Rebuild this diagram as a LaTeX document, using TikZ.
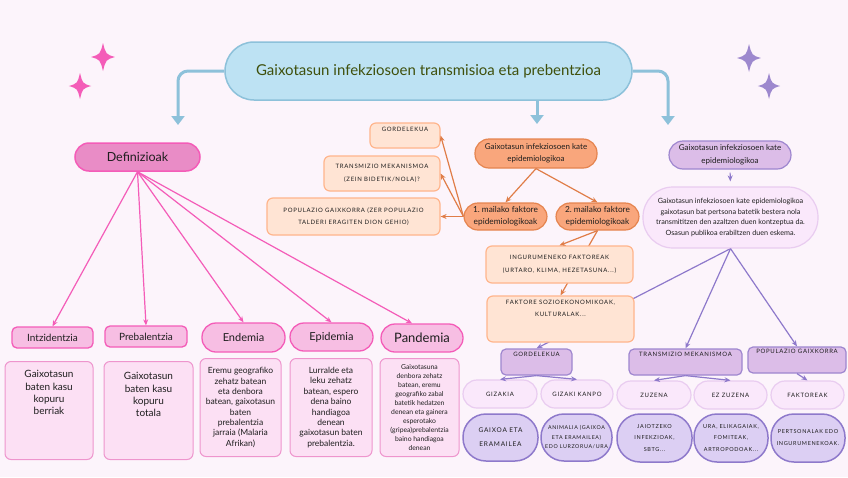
\documentclass[tikz,border=0pt]{standalone}
\usepackage{fontspec}
\setmainfont{Lato}
\newfontfamily\capsfont[LetterSpace=12]{Lato}
\usepackage{xcolor}
\usetikzlibrary{arrows.meta, positioning, backgrounds}

\definecolor{bgpaper}{HTML}{FCF4FB}
\definecolor{skyfill}{HTML}{BDE2F3}
\definecolor{skyline}{HTML}{8DC1DA}
\definecolor{titletxt}{HTML}{3F500C}
\definecolor{rosefill}{HTML}{E98CC6}
\definecolor{roseline}{HTML}{F45CB8}
\definecolor{roselab}{HTML}{F7BEE3}
\definecolor{rosepale}{HTML}{FCE0F4}
\definecolor{roseedge}{HTML}{EE95CD}
\definecolor{peachfill}{HTML}{FFE4D4}
\definecolor{peachline}{HTML}{FFB58C}
\definecolor{orangefill}{HTML}{F9A67C}
\definecolor{orangeline}{HTML}{E5844F}
\definecolor{orangearr}{HTML}{E07D48}
\definecolor{lilacfill}{HTML}{DCBDE8}
\definecolor{lilacline}{HTML}{9E86CF}
\definecolor{lilacpale}{HTML}{FAE8FB}
\definecolor{lilacedge}{HTML}{E9CCF0}
\definecolor{lavfill}{HTML}{DCCFF3}
\definecolor{lavline}{HTML}{8E79CB}
\definecolor{lilacstar}{HTML}{9D88CE}
\definecolor{inktxt}{HTML}{1E1E1E}

% text pinned to the top of a box
\newcommand{\toptext}[3]{\parbox[c][#1][t]{#2}{\centering #3}}

\begin{document}
\begin{tikzpicture}[
  x=1pt, y=-1pt,
  base/.style={align=center, text=inktxt, inner sep=1pt},
  titlebox/.style={base, draw=skyline, fill=skyfill, line width=1.5pt, rounded corners=29pt,
                   minimum width=407pt, minimum height=58pt, text=titletxt,
                   font=\fontsize{15}{17}\selectfont},
  defhead/.style={base, draw=roseline, fill=rosefill, line width=1.5pt, rounded corners=14pt,
                  minimum width=125pt, minimum height=28pt, font=\fontsize{12.5}{14}\selectfont},
  deflab/.style={base, draw=roseline, fill=roselab, line width=1.3pt, rounded corners=5pt,
                 minimum width=82pt, minimum height=21pt, font=\fontsize{10}{12}\selectfont},
  defpill/.style={deflab, rounded corners=14pt, minimum height=28pt, font=\fontsize{11}{13}\selectfont},
  defnote/.style={base, draw=roseedge, fill=rosepale, line width=1pt, rounded corners=6pt,
                  minimum height=98pt},
  peachbox/.style={base, draw=peachline, fill=peachfill, line width=1.2pt, rounded corners=6pt,
                   font=\capsfont\fontsize{6}{12.5}\selectfont},
  orangepill/.style={base, draw=orangeline, fill=orangefill, line width=1.2pt, rounded corners=14pt,
                     minimum height=28pt, font=\fontsize{8}{12.5}\selectfont},
  lilacbox/.style={base, draw=lilacline, fill=lilacfill, line width=1.2pt, rounded corners=5pt,
                   minimum height=26pt, font=\capsfont\fontsize{6}{9}\selectfont},
  lilacpill/.style={base, draw=lilacedge, fill=lilacpale, line width=1.2pt, rounded corners=14pt,
                    minimum width=73pt, minimum height=28pt, font=\capsfont\fontsize{6}{9}\selectfont},
  lavpill/.style={base, draw=lavline, fill=lavfill, line width=1.5pt, rounded corners=23pt,
                  minimum width=74pt, minimum height=47pt, font=\capsfont\fontsize{5.5}{11.5}\selectfont},
  bluearr/.style={-{Triangle[length=9pt, width=13pt]}, draw=skyline, line width=3pt},
  rosearr/.style={-{Stealth[length=6pt, width=5pt]}, draw=roseline, line width=1.2pt},
  orarr/.style={-{Stealth[length=6pt, width=5pt]}, draw=orangearr, line width=1.2pt},
  lilarr/.style={-{Stealth[length=6pt, width=5pt]}, draw=lavline, line width=1.2pt},
]
  \useasboundingbox (0,0) rectangle (848,477);
  \begin{scope}[on background layer]
    \fill[bgpaper] (0,0) rectangle (848,477);
  \end{scope}

  % sparkles
  \foreach \sx/\sy/\sr/\sc in {103/57/14/roseline, 80/86/13/roseline, 749/58/14/lilacstar, 769/86/13/lilacstar}
    \fill[\sc] (\sx,\sy-\sr) .. controls (\sx+0.2*\sr,\sy-0.2*\sr) .. (\sx+0.85*\sr,\sy)
               .. controls (\sx+0.2*\sr,\sy+0.2*\sr) .. (\sx,\sy+\sr)
               .. controls (\sx-0.2*\sr,\sy+0.2*\sr) .. (\sx-0.85*\sr,\sy)
               .. controls (\sx-0.2*\sr,\sy-0.2*\sr) .. (\sx,\sy-\sr) -- cycle;

  \node[titlebox] (title) at (428.5,71) {Gaixotasun infekziosoen transmisioa eta prebentzioa};
  \coordinate (deftip) at (178,125);
  \coordinate (midtip) at (537,124);
  \coordinate (kattip) at (668,125);

  % definizioak
  \node[defhead] (defin) at (137.5,157) {Definizioak};
  \node[deflab, minimum width=81pt] (intz) at (52.5,337.5) {Intzidentzia};
  \node[deflab] (preb) at (146,336.5) {Prebalentzia};
  \node[defpill, minimum width=83pt, minimum height=29pt] (endem) at (243.5,337.5) {Endemia};
  \node[defpill, minimum width=83pt] (epid) at (331.5,337) {Epidemia};
  \node[defpill, font=\fontsize{13}{15}\selectfont] (pand) at (422,338) {Pandemia};

  \node[defnote, minimum width=88pt, font=\fontsize{10}{12.3}\selectfont] (intzD) at (49,410.5)
       {\toptext{80pt}{84pt}{Gaixotasun\\baten kasu\\kopuru\\berriak}};
  \node[defnote, minimum width=89pt, font=\fontsize{10}{12.3}\selectfont] (prebD) at (148.5,410.5)
       {\toptext{76pt}{84pt}{Gaixotasun\\baten kasu\\kopuru\\totala}};
  \node[defnote, minimum width=81pt, font=\fontsize{8.5}{10.3}\selectfont] (endemD) at (240.5,407.5)
       {Eremu geografiko\\zehatz batean\\eta denbora\\batean, gaixotasun\\baten\\prebalentzia\\jarraia (Malaria\\Afrikan)};
  \node[defnote, minimum width=82pt, font=\fontsize{8.5}{10.4}\selectfont] (epidD) at (331,407.5)
       {Lurralde eta\\leku zehatz\\batean, espero\\dena baino\\handiagoa\\denean\\gaixotasun baten\\prebalentzia.};
  \node[defnote, minimum width=79pt, font=\fontsize{6.8}{9}\selectfont] (pandD) at (419.5,407.5)
       {Gaixotasuna\\denbora zehatz\\batean, eremu\\geografiko zabal\\batetik hedatzen\\denean eta gainera\\esperotako\\(gripea)prebalentzia\\baino handiagoa\\denean};

  % kate epidemiologikoa (laranja)
  \node[peachbox, minimum width=70pt, minimum height=25pt] (gordO) at (405,135.5)
       {\toptext{17pt}{66pt}{GORDELEKUA}};
  \node[peachbox, minimum width=116pt, minimum height=35pt] (transO) at (382,173.5)
       {TRANSMIZIO MEKANISMOA\\(ZEIN BIDETIK/NOLA)?};
  \node[peachbox, minimum width=173pt, minimum height=37pt] (popO) at (353.5,216.5)
       {POPULAZIO GAIXKORRA (ZER POPULAZIO\\TALDERI ERAGITEN DION GEHIO)};
  \node[orangepill, minimum width=122pt, minimum height=29pt] (kateO) at (536,153.5)
       {Gaixotasun infekziosoen kate\\epidemiologikoa};
  \node[orangepill, minimum width=83pt, minimum height=27pt, font=\fontsize{8.3}{12}\selectfont] (maila1) at (505.5,216.5)
       {1.\ mailako faktore\\epidemiologikoak};
  \node[orangepill, minimum width=83pt, minimum height=27pt, font=\fontsize{8.3}{12}\selectfont] (maila2) at (597.5,216.5)
       {2.\ mailako faktore\\epidemiologikoak};
  \node[peachbox, minimum width=147pt, minimum height=37pt] (ingur) at (559.5,264.5)
       {INGURUMENEKO FAKTOREAK\\(URTARO, KLIMA, HEZETASUNA...)};
  \node[peachbox, minimum width=147pt, minimum height=46pt] (sozio) at (560.5,319)
       {\toptext{38pt}{140pt}{FAKTORE SOZIOEKONOMIKOAK,\\KULTURALAK...}};

  % kate epidemiologikoa (morea)
  \node[lilacbox, draw=lilacline, minimum width=122pt, minimum height=28pt, rounded corners=14pt,
        font=\fontsize{8}{12.5}\selectfont] (kateP) at (730,155)
       {Gaixotasun infekziosoen kate\\epidemiologikoa};
  \node[lilacpill, draw=lilacedge, minimum width=175pt, minimum height=61pt, rounded corners=30pt,
        font=\fontsize{7.2}{10.5}\selectfont] (descP) at (730.5,217.5)
       {Gaixotasun infekziosoen kate epidemiologikoa\\gaixotasun bat pertsona batetik bestera nola\\transmititzen den azaltzen duen kontzeptua da.\\Osasun publikoa erabiltzen duen eskema.};
  \node[lilacbox, minimum width=71pt] (gordP) at (536.5,362) {\toptext{19pt}{68pt}{GORDELEKUA}};
  \node[lilacbox, minimum width=113pt] (transP) at (685.5,362) {\toptext{20pt}{108pt}{TRANSMIZIO MEKANISMOA}};
  \node[lilacbox, minimum width=98pt] (popP) at (797,360) {\toptext{21pt}{94pt}{POPULAZIO GAIXKORRA}};

  \node[lilacpill, minimum width=74pt] (gizakia) at (500,394) {GIZAKIA};
  \node[lilacpill, minimum width=72pt] (kanpo) at (577,394) {GIZAKI KANPO};
  \node[lilacpill, minimum width=74pt] (zuzena) at (654,395) {ZUZENA};
  \node[lilacpill] (ezzuz) at (730.5,395) {EZ ZUZENA};
  \node[lilacpill] (faktoreak) at (807.5,395) {FAKTOREAK};

  \node[lavpill, minimum width=75pt, font=\capsfont\fontsize{6.5}{14}\selectfont] (gaixoa) at (500.5,437.5)
       {GAIXOA ETA\\ERAMAILEA};
  \node[lavpill, minimum width=71pt, font=\capsfont\fontsize{5.3}{9.5}\selectfont] (animalia) at (576.5,437.5)
       {ANIMALIA (GAIXOA\\ETA ERAMAILEA)\\EDO LURZORUA/URA};
  \node[lavpill, minimum width=75pt, minimum height=48pt] (jaiotzeko) at (654.5,438)
       {JAIOTZEKO\\INFEKZIOAK,\\SBTG...};
  \node[lavpill, minimum height=48pt] (ura) at (731,438)
       {URA, ELIKAGAIAK,\\FOMITEAK,\\ARTROPODOAK...};
  \node[lavpill, minimum height=48pt, font=\capsfont\fontsize{5.5}{12}\selectfont] (pertsonal) at (808,438)
       {PERTSONALAK EDO\\INGURUMENEKOAK.};

  % title arrows
  \draw[bluearr, rounded corners=10pt] (title.west) -| (deftip);
  \draw[bluearr] (title.south -| midtip) -- (midtip);
  \draw[bluearr, rounded corners=10pt] (title.east) -| (kattip);

  % definizioak arrows
  \foreach \t in {intz, preb, endem, epid}
    \draw[rosearr] (defin.south) -- (\t.north);
  \draw[rosearr] (defin.south) -- ([xshift=-10pt]pand.north);

  % laranja arrows
  \draw[orarr] (kateO.south) -- (maila1.north);
  \draw[orarr] (kateO.south) -- (maila2.north);
  \foreach \t in {gordO, transO, popO}
    \draw[orarr] (maila1.west) -- (\t.east);
  \draw[orarr] (maila2.south) -- (ingur.north);

  % morea arrows
  \draw[lilarr, shorten <=3pt, shorten >=5pt] (kateP.south) -- (descP.north);
  \draw[lilarr] (descP.south) -- (transP.north);
  \draw[lilarr] (descP.south) -- (popP.north);
  \draw[lilarr] (gordP.south) -- (gizakia.north);
  \draw[lilarr] (gordP.south) -- (kanpo.north);
  \draw[lilarr] (transP.south) -- (zuzena.north);
  \draw[lilarr] (transP.south) -- (ezzuz.north);
  \draw[lilarr] (popP.south) -- (faktoreak.north);

  % these two run behind the boxes
  \begin{scope}[on background layer]
    \draw[orarr] (maila2.south) -- (sozio.north);
    \draw[lilarr] (descP.south) -- (gordP.north);
  \end{scope}
\end{tikzpicture}
\end{document}
